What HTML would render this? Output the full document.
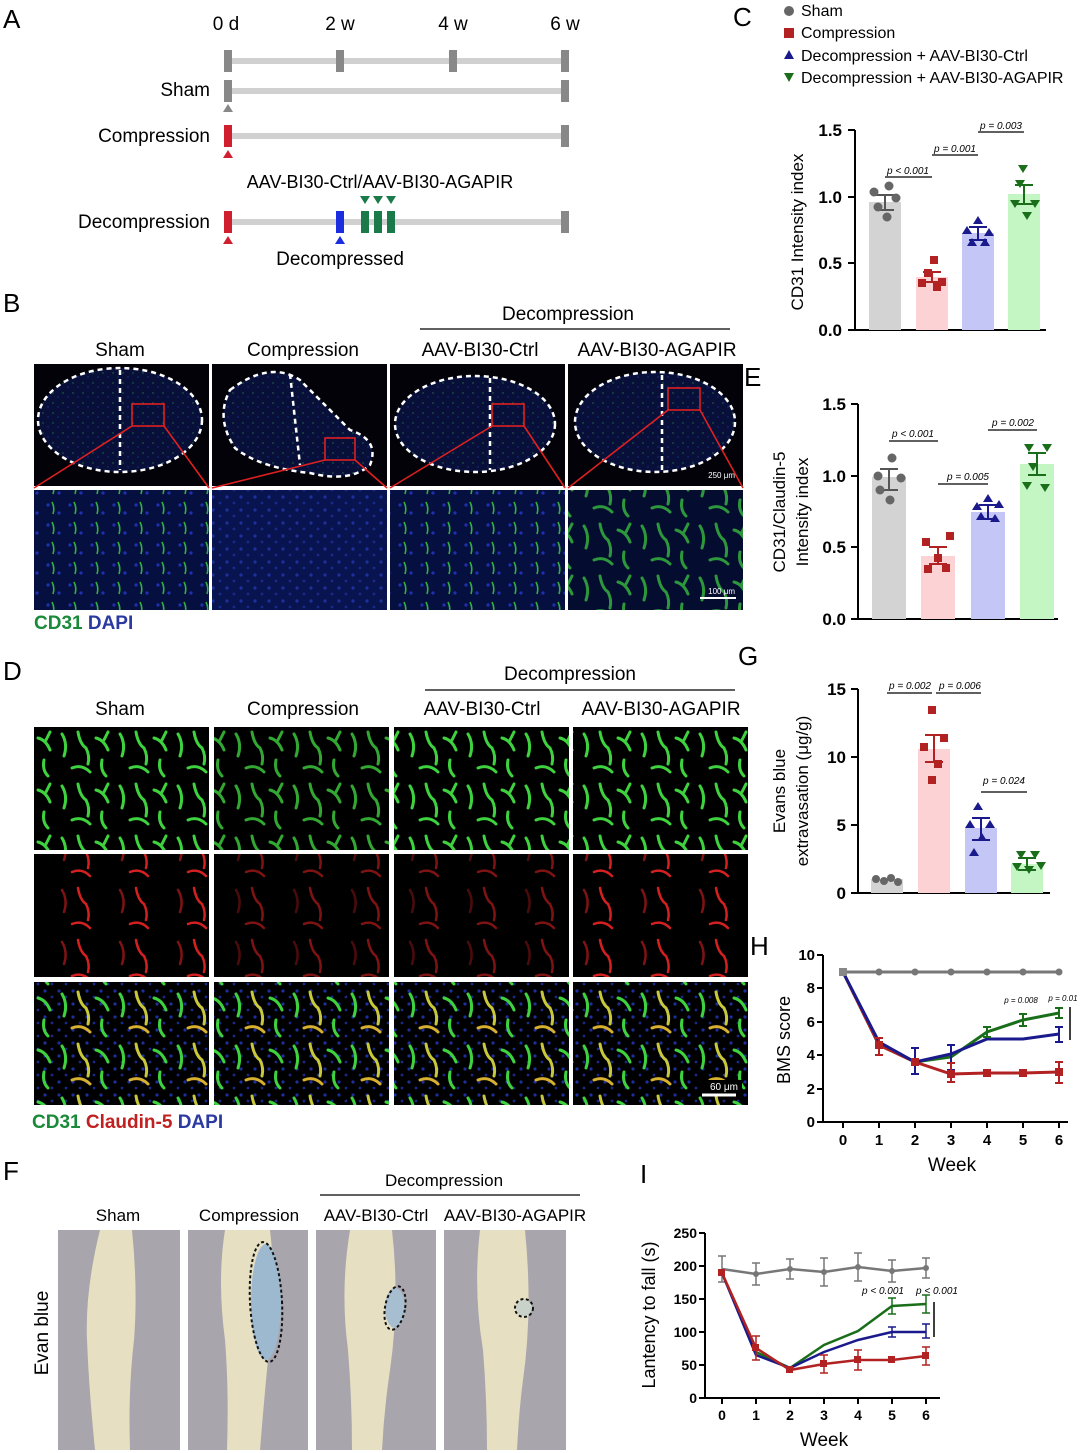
<!DOCTYPE html>
<html><head><meta charset="utf-8"><style>
html,body{margin:0;padding:0;background:#fff}
svg{display:block;font-family:"Liberation Sans",sans-serif}
</style></head><body>
<svg width="1080" height="1453" viewBox="0 0 1080 1453" xmlns="http://www.w3.org/2000/svg">
<defs>
<pattern id="gv" width="58" height="52" patternUnits="userSpaceOnUse">
<g fill="none" stroke="#3fd23f" stroke-width="3" stroke-linecap="round">
<path d="M4 6 q6 10 2 22"/><path d="M20 4 q2 12 8 16 q4 8 2 16"/><path d="M38 10 q8 2 12 12"/><path d="M14 40 q10 -4 18 4"/><path d="M44 32 q-2 10 4 16"/><path d="M50 4 l-4 8"/>
</g></pattern>
<pattern id="rv" width="58" height="52" patternUnits="userSpaceOnUse">
<g fill="none" stroke="#d42020" stroke-width="2.5" stroke-linecap="round">
<path d="M20 4 q2 12 8 16 q4 8 2 16"/><path d="M14 40 q10 -4 18 4"/><path d="M4 6 q6 10 2 22" opacity=".6"/>
</g></pattern>
<pattern id="dp" width="14" height="13" patternUnits="userSpaceOnUse">
<circle cx="3" cy="3" r="1.6" fill="#1e2e9a"/><circle cx="10" cy="9" r="1.4" fill="#1a2888"/>
</pattern>
<pattern id="yv" width="58" height="52" patternUnits="userSpaceOnUse">
<g fill="none" stroke-width="3" stroke-linecap="round">
<path d="M4 6 q6 10 2 22" stroke="#3fd23f"/><path d="M20 4 q2 12 8 16 q4 8 2 16" stroke="#c8c83a"/><path d="M38 10 q8 2 12 12" stroke="#3fd23f"/><path d="M14 40 q10 -4 18 4" stroke="#d8b030"/><path d="M44 32 q-2 10 4 16" stroke="#3fd23f"/>
</g></pattern>
<pattern id="sv" width="22" height="20" patternUnits="userSpaceOnUse">
<rect width="22" height="20" fill="#061040"/>
<circle cx="4" cy="5" r="1.6" fill="#1e30b0"/><circle cx="15" cy="13" r="1.6" fill="#1e30b0"/>
<path d="M8 2 q3 6 1 12" stroke="#30b040" stroke-width="1.6" fill="none"/>
</pattern>
<pattern id="sec" width="10" height="10" patternUnits="userSpaceOnUse">
<rect width="10" height="10" fill="#08103a"/><circle cx="3" cy="3" r="0.7" fill="#24704a"/><circle cx="8" cy="7" r="0.7" fill="#1e2e90"/>
</pattern>
</defs>

<!-- Panel A -->
<g font-size="19" text-anchor="middle">
<text x="226" y="30">0 d</text><text x="340" y="30">2 w</text><text x="453" y="30">4 w</text><text x="565" y="30">6 w</text>
</g>
<g fill="#d0d0d0"><rect x="228" y="58" width="337" height="6"/><rect x="228" y="88" width="337" height="6"/><rect x="228" y="133" width="337" height="6"/><rect x="228" y="219" width="337" height="6"/></g>
<g fill="#888"><rect x="224" y="50" width="8" height="22"/><rect x="336" y="50" width="8" height="22"/><rect x="449" y="50" width="8" height="22"/><rect x="561" y="50" width="8" height="22"/>
<rect x="224" y="80" width="8" height="22"/><rect x="561" y="80" width="8" height="22"/><rect x="561" y="125" width="8" height="22"/><rect x="561" y="211" width="8" height="22"/></g>
<g font-size="19" text-anchor="end"><text x="210" y="96">Sham</text><text x="210" y="142">Compression</text><text x="210" y="228">Decompression</text></g>
<path d="M228 104 l-5 8 h10z" fill="#888"/>
<rect x="224" y="125" width="8" height="22" fill="#d02030"/><path d="M228 150 l-5 8 h10z" fill="#d02030"/>
<text x="380" y="188" font-size="18" text-anchor="middle">AAV-BI30-Ctrl/AAV-BI30-AGAPIR</text>
<rect x="224" y="211" width="8" height="22" fill="#d02030"/><path d="M228 236 l-5 8 h10z" fill="#d02030"/>
<rect x="336" y="211" width="8" height="22" fill="#1a2ee0"/><path d="M340 236 l-5 8 h10z" fill="#1a2ee0"/>
<g fill="#1a7a4a"><rect x="361" y="211" width="8" height="22"/><rect x="374" y="211" width="8" height="22"/><rect x="387" y="211" width="8" height="22"/>
<path d="M360 196 h10 l-5 8z"/><path d="M373 196 h10 l-5 8z"/><path d="M386 196 h10 l-5 8z"/></g>
<text x="340" y="265" font-size="19" text-anchor="middle">Decompressed</text>

<!-- Panel B -->
<text x="568" y="320" font-size="19" text-anchor="middle">Decompression</text>
<line x1="420" y1="329" x2="730" y2="329" stroke="#000" stroke-width="1.2"/>
<g font-size="19" text-anchor="middle"><text x="120" y="356">Sham</text><text x="303" y="356">Compression</text><text x="480" y="356">AAV-BI30-Ctrl</text><text x="657" y="356">AAV-BI30-AGAPIR</text></g>
<g>
<rect x="34" y="364" width="175" height="122" fill="#020208"/>
<rect x="212" y="364" width="175" height="122" fill="#020208"/>
<rect x="390" y="364" width="175" height="122" fill="#020208"/>
<rect x="568" y="364" width="175" height="122" fill="#020208"/>
<ellipse cx="120" cy="420" rx="82" ry="52" fill="url(#sec)"/>
<path d="M230 390 q40 -30 70 -10 q20 20 50 50 q30 10 20 35 q-20 18 -60 8 q-50 -5 -75 -25 q-20 -30 -5 -58z" fill="url(#sec)"/>
<ellipse cx="475" cy="424" rx="80" ry="48" fill="url(#sec)"/>
<ellipse cx="655" cy="422" rx="80" ry="50" fill="url(#sec)"/>
<g fill="none" stroke="#fff" stroke-width="2.5" stroke-dasharray="5 4">
<ellipse cx="120" cy="420" rx="82" ry="52"/><line x1="120" y1="370" x2="120" y2="470"/>
<path d="M230 390 q40 -30 70 -10 q20 20 50 50 q30 10 20 35 q-20 18 -60 8 q-50 -5 -75 -25 q-20 -30 -5 -58z"/><line x1="290" y1="374" x2="300" y2="465"/>
<ellipse cx="475" cy="424" rx="80" ry="48"/><line x1="490" y1="378" x2="490" y2="470"/>
<ellipse cx="655" cy="422" rx="80" ry="50"/><line x1="662" y1="375" x2="662" y2="470"/>
</g>
<g fill="none" stroke="#e02020" stroke-width="1.6">
<rect x="132" y="404" width="32" height="22"/><rect x="325" y="438" width="30" height="22"/><rect x="492" y="404" width="32" height="22"/><rect x="668" y="388" width="32" height="22"/>
<path d="M132 426 L34 488 M164 426 L209 488 M325 460 L212 488 M355 460 L387 488 M492 426 L390 488 M524 426 L565 488 M668 410 L568 488 M700 410 L743 488"/>
</g>
<rect x="34" y="490" width="175" height="120" fill="url(#sv)"/>
<rect x="212" y="490" width="175" height="120" fill="#081450"/><rect x="212" y="490" width="175" height="120" fill="url(#dp)"/>
<rect x="390" y="490" width="175" height="120" fill="url(#sv)"/>
<rect x="568" y="490" width="175" height="120" fill="#040c30"/><rect x="568" y="490" width="175" height="120" fill="url(#gv)" opacity=".7"/>
<text x="735" y="478" font-size="8" fill="#fff" text-anchor="end">250 μm</text>
<text x="735" y="594" font-size="8" fill="#fff" text-anchor="end">100 μm</text><line x1="700" y1="598" x2="736" y2="598" stroke="#fff" stroke-width="2"/>
</g>
<text x="34" y="629" font-size="19" font-weight="bold"><tspan fill="#1a8a3a">CD31</tspan> <tspan fill="#2a3aa0">DAPI</tspan></text>

<!-- Panel D -->
<text x="570" y="680" font-size="19" text-anchor="middle">Decompression</text>
<line x1="425" y1="690" x2="735" y2="690" stroke="#000" stroke-width="1.2"/>
<g font-size="19" text-anchor="middle"><text x="120" y="715">Sham</text><text x="303" y="715">Compression</text><text x="482" y="715">AAV-BI30-Ctrl</text><text x="661" y="715">AAV-BI30-AGAPIR</text></g>
<g>
<rect x="34" y="727" width="175" height="123" fill="#000"/><rect x="214" y="727" width="175" height="123" fill="#000"/><rect x="394" y="727" width="175" height="123" fill="#000"/><rect x="573" y="727" width="175" height="123" fill="#000"/>
<rect x="34" y="727" width="175" height="123" fill="url(#gv)"/><rect x="214" y="727" width="175" height="123" fill="url(#gv)" opacity=".8"/><rect x="394" y="727" width="175" height="123" fill="url(#gv)"/><rect x="573" y="727" width="175" height="123" fill="url(#gv)"/>
<rect x="34" y="854" width="175" height="123" fill="#000"/><rect x="214" y="854" width="175" height="123" fill="#000"/><rect x="394" y="854" width="175" height="123" fill="#000"/><rect x="573" y="854" width="175" height="123" fill="#000"/>
<rect x="34" y="854" width="175" height="123" fill="url(#rv)"/><rect x="214" y="854" width="175" height="123" fill="url(#rv)" opacity=".6"/><rect x="394" y="854" width="175" height="123" fill="url(#rv)" opacity=".6"/><rect x="573" y="854" width="175" height="123" fill="url(#rv)"/>
<rect x="34" y="982" width="175" height="123" fill="#000"/><rect x="214" y="982" width="175" height="123" fill="#000"/><rect x="394" y="982" width="175" height="123" fill="#000"/><rect x="573" y="982" width="175" height="123" fill="#000"/>
<rect x="34" y="982" width="175" height="123" fill="url(#dp)"/><rect x="214" y="982" width="175" height="123" fill="url(#dp)"/><rect x="394" y="982" width="175" height="123" fill="url(#dp)"/><rect x="573" y="982" width="175" height="123" fill="url(#dp)"/>
<rect x="34" y="982" width="175" height="123" fill="url(#yv)"/><rect x="214" y="982" width="175" height="123" fill="url(#yv)"/><rect x="394" y="982" width="175" height="123" fill="url(#yv)"/><rect x="573" y="982" width="175" height="123" fill="url(#yv)"/>
<rect x="700" y="1080" width="42" height="16" fill="#000"/>
<text x="738" y="1090" font-size="10" fill="#fff" text-anchor="end">60 μm</text><line x1="702" y1="1095" x2="736" y2="1095" stroke="#fff" stroke-width="3"/>
</g>
<text x="32" y="1128" font-size="19" font-weight="bold"><tspan fill="#1a8a3a">CD31</tspan> <tspan fill="#c02020">Claudin-5</tspan> <tspan fill="#2a3aa0">DAPI</tspan></text>

<!-- Panel F -->
<text x="444" y="1186" font-size="17" text-anchor="middle">Decompression</text>
<line x1="320" y1="1195" x2="580" y2="1195" stroke="#000" stroke-width="1.2"/>
<g font-size="17" text-anchor="middle"><text x="118" y="1221">Sham</text><text x="249" y="1221">Compression</text><text x="376" y="1221">AAV-BI30-Ctrl</text><text x="515" y="1221">AAV-BI30-AGAPIR</text></g>
<g>
<rect x="58" y="1230" width="122" height="220" fill="#a9a5ad"/>
<rect x="188" y="1230" width="120" height="220" fill="#a9a5ad"/><rect x="316" y="1230" width="120" height="220" fill="#a9a5ad"/><rect x="444" y="1230" width="122" height="220" fill="#a9a5ad"/>
<g fill="#e6dfc2">
<path d="M100 1230 h32 q6 60 2 110 q-6 50 -4 110 h-35 q-6 -60 -8 -110 q-2 -50 13 -110z"/>
<path d="M225 1230 h45 q8 70 -2 130 q-4 40 -8 90 h-33 q2 -60 -2 -110 q-8 -60 0 -110z"/>
<path d="M350 1230 h42 q8 70 -2 140 q-6 40 -8 80 h-30 q0 -50 -4 -100 q-8 -60 2 -120z"/>
<path d="M480 1230 h45 q8 80 -2 150 q-4 30 -6 70 h-30 q0 -50 -4 -100 q-10 -60 -3 -120z"/>
</g>
<ellipse cx="266" cy="1302" rx="15" ry="58" fill="#9cb9cf"/>
<ellipse cx="395" cy="1308" rx="10" ry="20" fill="#a7bdd0"/>
<ellipse cx="524" cy="1308" rx="8" ry="8" fill="#c8d2c8"/>
<g fill="none" stroke="#111" stroke-width="2" stroke-dasharray="3 2.5">
<ellipse cx="266" cy="1302" rx="16" ry="60" transform="rotate(-3 266 1302)"/>
<ellipse cx="395" cy="1308" rx="10" ry="22" transform="rotate(10 395 1308)"/>
<ellipse cx="524" cy="1308" rx="9" ry="9"/>
</g>
</g>
<text transform="translate(48 1333) rotate(-90)" font-size="19" text-anchor="middle">Evan blue</text>

<!-- Panel C -->
<g font-size="16">
<circle cx="789" cy="11" r="5" fill="#666"/><text x="801" y="16">Sham</text>
<rect x="784" y="28" width="10" height="10" fill="#b22222"/><text x="801" y="38">Compression</text>
<path d="M789 50 l5 9 h-10z" fill="#1a1a8c"/><text x="801" y="61">Decompression + AAV-BI30-Ctrl</text>
<path d="M784 73 h10 l-5 9z" fill="#1a6e1a"/><text x="801" y="83">Decompression + AAV-BI30-AGAPIR</text>
</g>
<g font-size="17" font-weight="bold" text-anchor="end"><text x="842" y="136">1.5</text><text x="842" y="203">1.0</text><text x="842" y="269">0.5</text><text x="842" y="336">0.0</text></g>
<path d="M855 130 V330 H1046 M848 130 H855 M848 197 H855 M848 263 H855 M848 330 H855" stroke="#000" stroke-width="2" fill="none"/>
<text transform="translate(803 232) rotate(-90)" font-size="17" text-anchor="middle">CD31 Intensity index</text>
<rect x="869" y="202" width="32" height="128" fill="#d3d3d3"/><rect x="916" y="277" width="32" height="53" fill="#fcd2d4"/><rect x="962" y="233" width="32" height="97" fill="#c4c7f6"/><rect x="1008" y="194" width="32" height="136" fill="#c4f6c4"/>
<g stroke-width="2" fill="none"><path d="M876 195 H894 M885 195 V210 M876 210 H894" stroke="#555"/><path d="M923 272 H941 M932 272 V282 M923 282 H941" stroke="#b22222"/><path d="M969 227 H987 M978 227 V240 M969 240 H987" stroke="#1a1a8c"/><path d="M1015 185 H1033 M1024 185 V204 M1015 204 H1033" stroke="#1a6e1a"/></g>
<g fill="#666"><circle cx="874" cy="192" r="4.5"/><circle cx="889" cy="186" r="4.5"/><circle cx="896" cy="198" r="4.5"/><circle cx="878" cy="207" r="4.5"/><circle cx="887" cy="217" r="4.5"/></g>
<g fill="#b22222"><rect x="918" y="279" width="8" height="8"/><rect x="930" y="256" width="8" height="8"/><rect x="938" y="278" width="8" height="8"/><rect x="924" y="269" width="8" height="8"/><rect x="933" y="283" width="8" height="8"/></g>
<g fill="#1a1a8c"><path d="M967 226 l5 8 h-10z"/><path d="M978 216 l5 8 h-10z"/><path d="M989 228 l5 8 h-10z"/><path d="M972 238 l5 8 h-10z"/><path d="M985 238 l5 8 h-10z"/></g>
<g fill="#1a6e1a"><path d="M1018 165 h10 l-5 8z"/><path d="M1010 200 h10 l-5 8z"/><path d="M1030 200 h10 l-5 8z"/><path d="M1015 180 h10 l-5 8z"/><path d="M1022 212 h10 l-5 8z"/></g>
<g stroke="#000" stroke-width="1.2"><path d="M885 177 H932 M932 155 H978 M978 132 H1024"/></g>
<g font-size="10" font-style="italic" text-anchor="middle"><text x="908" y="174">p &lt; 0.001</text><text x="955" y="152">p = 0.001</text><text x="1001" y="129">p = 0.003</text></g>

<!-- Panel E -->
<g font-size="17" font-weight="bold" text-anchor="end"><text x="846" y="410">1.5</text><text x="846" y="482">1.0</text><text x="846" y="553">0.5</text><text x="846" y="625">0.0</text></g>
<path d="M858 404 V619 H1058 M851 404 H858 M851 476 H858 M851 547 H858 M851 619 H858" stroke="#000" stroke-width="2" fill="none"/>
<text transform="translate(785 512) rotate(-90)" font-size="17" text-anchor="middle">CD31/Claudin-5</text>
<text transform="translate(808 512) rotate(-90)" font-size="17" text-anchor="middle">Intensity index</text>
<rect x="872" y="477" width="34" height="142" fill="#d3d3d3"/><rect x="921" y="556" width="34" height="63" fill="#fcd2d4"/><rect x="971" y="512" width="34" height="107" fill="#c4c7f6"/><rect x="1020" y="464" width="34" height="155" fill="#c4f6c4"/>
<g stroke-width="2" fill="none"><path d="M880 469 H898 M889 469 V490 M880 490 H898" stroke="#555"/><path d="M929 547 H947 M938 547 V564 M929 564 H947" stroke="#b22222"/><path d="M979 505 H997 M988 505 V519 M979 519 H997" stroke="#1a1a8c"/><path d="M1028 453 H1046 M1037 453 V475 M1028 475 H1046" stroke="#1a6e1a"/></g>
<g fill="#666"><circle cx="878" cy="476" r="4.5"/><circle cx="892" cy="458" r="4.5"/><circle cx="901" cy="478" r="4.5"/><circle cx="880" cy="490" r="4.5"/><circle cx="890" cy="500" r="4.5"/></g>
<g fill="#b22222"><rect x="922" y="538" width="8" height="8"/><rect x="934" y="554" width="8" height="8"/><rect x="946" y="532" width="8" height="8"/><rect x="924" y="565" width="8" height="8"/><rect x="942" y="564" width="8" height="8"/></g>
<g fill="#1a1a8c"><path d="M977 502 l5 8 h-10z"/><path d="M988 494 l5 8 h-10z"/><path d="M999 500 l5 8 h-10z"/><path d="M981 512 l5 8 h-10z"/><path d="M995 514 l5 8 h-10z"/></g>
<g fill="#1a6e1a"><path d="M1024 444 h10 l-5 8z"/><path d="M1042 444 h10 l-5 8z"/><path d="M1028 463 h10 l-5 8z"/><path d="M1022 482 h10 l-5 8z"/><path d="M1040 484 h10 l-5 8z"/></g>
<g stroke="#000" stroke-width="1.2"><path d="M889 441 H938 M938 484 H988 M988 430 H1037"/></g>
<g font-size="10" font-style="italic" text-anchor="middle"><text x="913" y="437">p &lt; 0.001</text><text x="968" y="480">p = 0.005</text><text x="1013" y="426">p = 0.002</text></g>

<!-- Panel G -->
<g font-size="17" font-weight="bold" text-anchor="end"><text x="846" y="695">15</text><text x="846" y="763">10</text><text x="846" y="831">5</text><text x="846" y="899">0</text></g>
<path d="M858 689 V893 H1050 M851 689 H858 M851 757 H858 M851 825 H858 M851 893 H858" stroke="#000" stroke-width="2" fill="none"/>
<text transform="translate(785 791) rotate(-90)" font-size="17" text-anchor="middle">Evans blue</text>
<text transform="translate(808 791) rotate(-90)" font-size="17" text-anchor="middle">extravasation (μg/g)</text>
<rect x="871" y="879" width="32" height="14" fill="#d3d3d3"/><rect x="918" y="749" width="32" height="144" fill="#fcd2d4"/><rect x="965" y="828" width="32" height="65" fill="#c4c7f6"/><rect x="1011" y="864" width="32" height="29" fill="#c4f6c4"/>
<g stroke-width="2" fill="none"><path d="M925 735 H943 M934 735 V762 M925 762 H943" stroke="#b22222"/><path d="M972 818 H990 M981 818 V840 M972 840 H990" stroke="#1a1a8c"/><path d="M1018 858 H1036 M1027 858 V870 M1018 870 H1036" stroke="#1a6e1a"/></g>
<g fill="#666"><circle cx="876" cy="879" r="4"/><circle cx="884" cy="881" r="4"/><circle cx="891" cy="878" r="4"/><circle cx="898" cy="882" r="4"/></g>
<g fill="#b22222"><rect x="928" y="706" width="8" height="8"/><rect x="940" y="734" width="8" height="8"/><rect x="920" y="743" width="8" height="8"/><rect x="934" y="760" width="8" height="8"/><rect x="928" y="776" width="8" height="8"/></g>
<g fill="#1a1a8c"><path d="M978 802 l5 8 h-10z"/><path d="M970 820 l5 8 h-10z"/><path d="M990 820 l5 8 h-10z"/><path d="M982 833 l5 8 h-10z"/><path d="M974 848 l5 8 h-10z"/></g>
<g fill="#1a6e1a"><path d="M1016 851 h10 l-5 8z"/><path d="M1030 851 h10 l-5 8z"/><path d="M1012 863 h10 l-5 8z"/><path d="M1024 866 h10 l-5 8z"/><path d="M1036 862 h10 l-5 8z"/></g>
<g stroke="#000" stroke-width="1.2"><path d="M887 693 H932 M936 693 H981 M981 792 H1027"/></g>
<g font-size="10" font-style="italic" text-anchor="middle"><text x="910" y="689">p = 0.002</text><text x="960" y="689">p = 0.006</text><text x="1004" y="784">p = 0.024</text></g>

<!-- Panel H -->
<g font-size="15" font-weight="bold" text-anchor="end"><text x="815" y="960">10</text><text x="815" y="993">8</text><text x="815" y="1027">6</text><text x="815" y="1060">4</text><text x="815" y="1094">2</text><text x="815" y="1127">0</text></g>
<path d="M823 955 V1122 H1068 M817 955 H823 M817 988 H823 M817 1022 H823 M817 1055 H823 M817 1089 H823 M817 1122 H823 M843 1122 V1128 M879 1122 V1128 M915 1122 V1128 M951 1122 V1128 M987 1122 V1128 M1023 1122 V1128 M1059 1122 V1128" stroke="#000" stroke-width="2" fill="none"/>
<g font-size="15" font-weight="bold" text-anchor="middle"><text x="843" y="1145">0</text><text x="879" y="1145">1</text><text x="915" y="1145">2</text><text x="951" y="1145">3</text><text x="987" y="1145">4</text><text x="1023" y="1145">5</text><text x="1059" y="1145">6</text></g>
<text x="952" y="1171" font-size="19" text-anchor="middle">Week</text>
<text transform="translate(790 1040) rotate(-90)" font-size="18" text-anchor="middle">BMS score</text>
<polyline points="843,972 879,972 915,972 951,972 987,972 1023,972 1059,972" fill="none" stroke="#777" stroke-width="3"/>
<g fill="#777"><circle cx="879" cy="972" r="3.5"/><circle cx="915" cy="972" r="3.5"/><circle cx="951" cy="972" r="3.5"/><circle cx="987" cy="972" r="3.5"/><circle cx="1023" cy="972" r="3.5"/><circle cx="1059" cy="972" r="3.5"/></g>
<polyline points="843,972 879,1045 915,1062 951,1057 987,1032 1023,1020 1059,1013" fill="none" stroke="#1a6e1a" stroke-width="3"/>
<polyline points="843,972 879,1045 915,1062 951,1074 987,1073 1023,1073 1059,1072" fill="none" stroke="#b22222" stroke-width="3"/>
<polyline points="843,972 879,1042 915,1062 951,1054 987,1039 1023,1039 1059,1034" fill="none" stroke="#1a1a8c" stroke-width="3"/>
<g stroke-width="2" fill="none">
<path d="M1019 1014 H1027 M1023 1014 V1026 M1019 1026 H1027 M1055 1008 H1063 M1059 1008 V1018 M1055 1018 H1063 M983 1027 H991 M987 1027 V1037 M983 1037 H991" stroke="#1a6e1a"/>
<path d="M911 1048 H919 M915 1048 V1074 M911 1074 H919 M947 1045 H955 M951 1045 V1070 M947 1070 H955 M1055 1027 H1063 M1059 1027 V1042 M1055 1042 H1063" stroke="#1a1a8c"/>
<path d="M947 1063 H955 M951 1063 V1082 M947 1082 H955 M1055 1062 H1063 M1059 1062 V1083 M1055 1083 H1063 M875 1038 H883 M879 1038 V1055 M875 1055 H883" stroke="#b22222"/>
</g>
<g fill="#b22222"><rect x="875" y="1041" width="8" height="8"/><rect x="911" y="1058" width="8" height="8"/><rect x="947" y="1070" width="8" height="8"/><rect x="983" y="1069" width="8" height="8"/><rect x="1019" y="1069" width="8" height="8"/><rect x="1055" y="1068" width="8" height="8"/></g>
<rect x="839" y="968" width="8" height="8" fill="#888"/>
<line x1="1070" y1="1007" x2="1070" y2="1040" stroke="#000" stroke-width="1.5"/>
<g font-size="8" font-style="italic" text-anchor="middle"><text x="1021" y="1003">p = 0.008</text><text x="1063" y="1001">p = 0.01</text></g>

<!-- Panel I -->
<g font-size="14" font-weight="bold" text-anchor="end"><text x="697" y="1238">250</text><text x="697" y="1271">200</text><text x="697" y="1304">150</text><text x="697" y="1337">100</text><text x="697" y="1370">50</text><text x="697" y="1403">0</text></g>
<path d="M705 1233 V1398 H940 M699 1233 H705 M699 1266 H705 M699 1299 H705 M699 1332 H705 M699 1365 H705 M699 1398 H705 M722 1398 V1404 M756 1398 V1404 M790 1398 V1404 M824 1398 V1404 M858 1398 V1404 M892 1398 V1404 M926 1398 V1404" stroke="#000" stroke-width="2" fill="none"/>
<g font-size="14" font-weight="bold" text-anchor="middle"><text x="722" y="1420">0</text><text x="756" y="1420">1</text><text x="790" y="1420">2</text><text x="824" y="1420">3</text><text x="858" y="1420">4</text><text x="892" y="1420">5</text><text x="926" y="1420">6</text></g>
<text x="824" y="1446" font-size="19" text-anchor="middle">Week</text>
<text transform="translate(655 1315) rotate(-90)" font-size="18" text-anchor="middle">Lantency to fall (s)</text>
<polyline points="722,1269 756,1274 790,1269 824,1272 858,1267 892,1271 926,1268" fill="none" stroke="#777" stroke-width="2.5"/>
<g stroke="#777" stroke-width="1.5" fill="none"><path d="M718 1256 H726 M722 1256 V1282 M718 1282 H726 M752 1263 H760 M756 1263 V1285 M752 1285 H760 M786 1259 H794 M790 1259 V1279 M786 1279 H794 M820 1258 H828 M824 1258 V1286 M820 1286 H828 M854 1253 H862 M858 1253 V1281 M854 1281 H862 M888 1260 H896 M892 1260 V1282 M888 1282 H896 M922 1258 H930 M926 1258 V1278 M922 1278 H930"/></g>
<g fill="#777"><circle cx="756" cy="1274" r="3"/><circle cx="790" cy="1269" r="3"/><circle cx="824" cy="1272" r="3"/><circle cx="858" cy="1267" r="3"/><circle cx="892" cy="1271" r="3"/><circle cx="926" cy="1268" r="3"/></g>
<polyline points="722,1273 756,1352 790,1368 824,1345 858,1331 892,1306 926,1304" fill="none" stroke="#1a6e1a" stroke-width="2.5"/>
<polyline points="722,1273 756,1355 790,1368 824,1352 858,1340 892,1332 926,1332" fill="none" stroke="#1a1a8c" stroke-width="2.5"/>
<polyline points="722,1273 756,1348 790,1370 824,1364 858,1360 892,1360 926,1356" fill="none" stroke="#b22222" stroke-width="2.5"/>
<g stroke-width="1.5" fill="none">
<path d="M888 1298 H896 M892 1298 V1314 M888 1314 H896 M922 1295 H930 M926 1295 V1313 M922 1313 H930" stroke="#1a6e1a"/>
<path d="M888 1327 H896 M892 1327 V1337 M888 1337 H896 M922 1324 H930 M926 1324 V1338 M922 1338 H930" stroke="#1a1a8c"/>
<path d="M820 1355 H828 M824 1355 V1373 M820 1373 H828 M854 1350 H862 M858 1350 V1370 M854 1370 H862 M922 1347 H930 M926 1347 V1365 M922 1365 H930 M752 1336 H760 M756 1336 V1360 M752 1360 H760" stroke="#b22222"/>
</g>
<g fill="#b22222"><rect x="752" y="1344" width="7" height="7"/><rect x="786" y="1366" width="7" height="7"/><rect x="820" y="1360" width="7" height="7"/><rect x="854" y="1356" width="7" height="7"/><rect x="888" y="1356" width="7" height="7"/><rect x="922" y="1352" width="7" height="7"/><rect x="718" y="1269" width="7" height="7"/></g>
<line x1="934" y1="1302" x2="934" y2="1337" stroke="#000" stroke-width="1.5"/>
<g font-size="10" font-style="italic" text-anchor="middle"><text x="883" y="1294">p &lt; 0.001</text><text x="937" y="1294">p &lt; 0.001</text></g>

<!-- Panel letters (on top) -->
<g font-size="26">
<text x="3" y="28">A</text><text x="3" y="312">B</text><text x="3" y="680">D</text><text x="3" y="1180">F</text>
<text x="733" y="26">C</text><text x="744" y="386">E</text><text x="738" y="665">G</text><text x="750" y="955">H</text><text x="640" y="1183">I</text>
</g>
</svg>
</body></html>
